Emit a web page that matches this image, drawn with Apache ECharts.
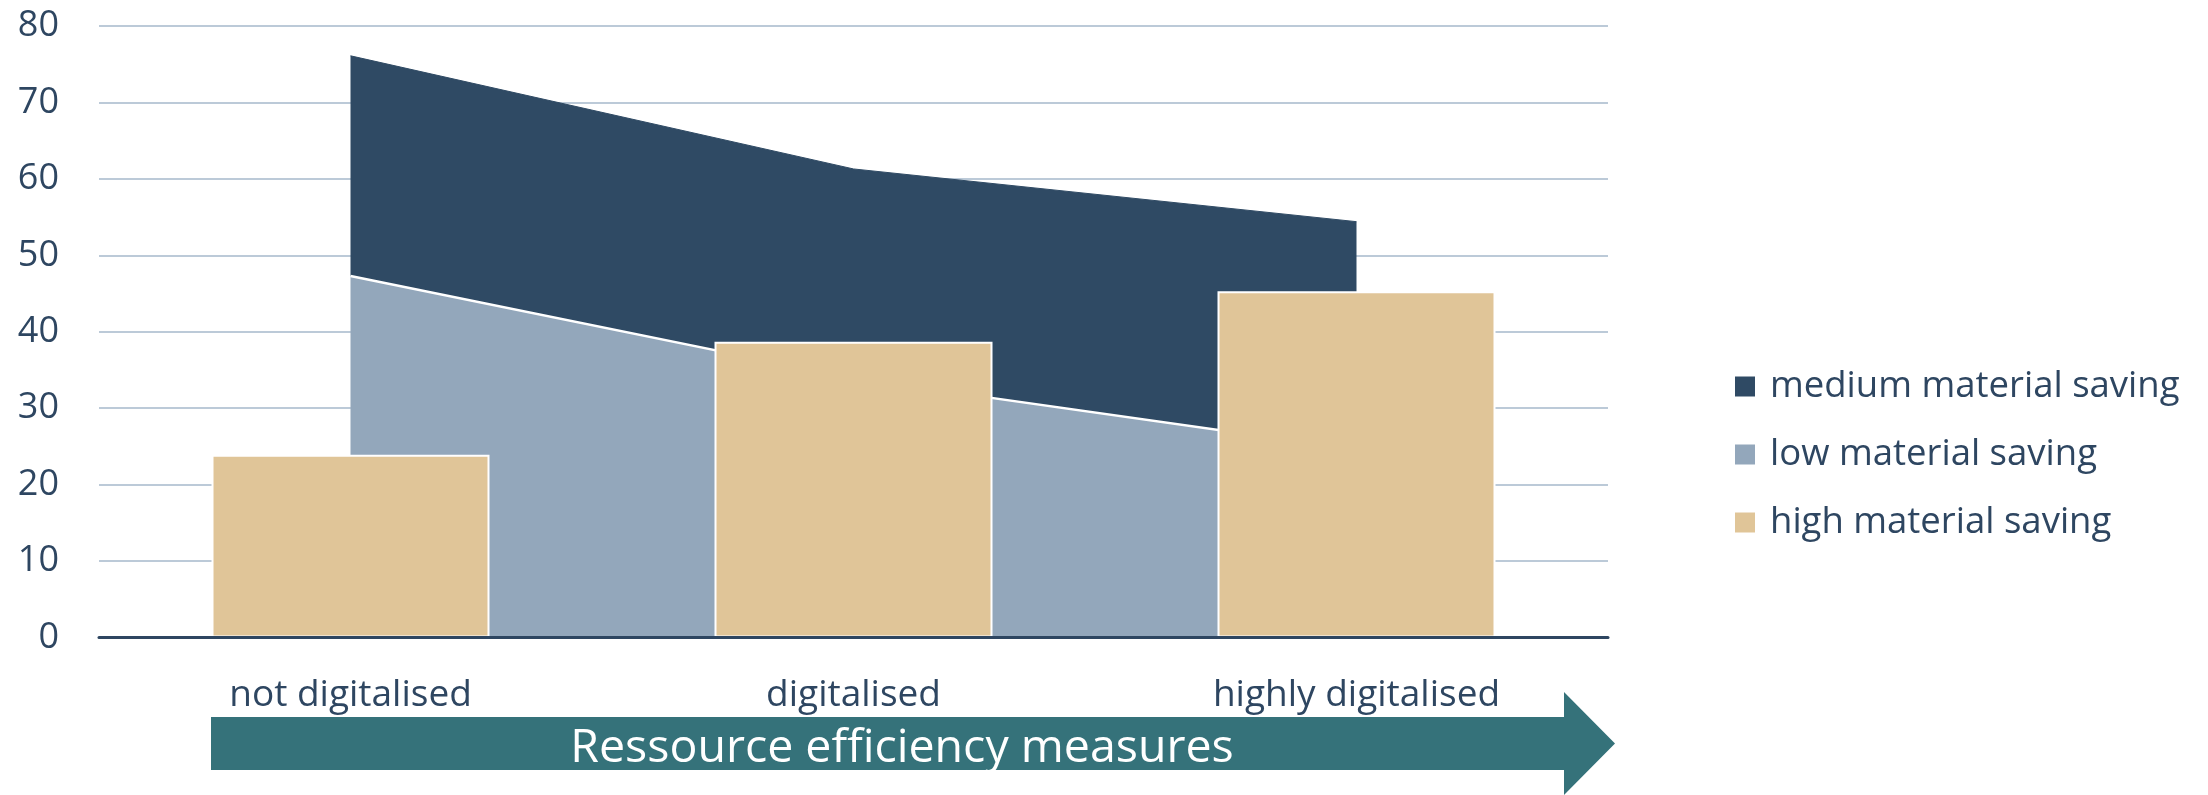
<!DOCTYPE html>
<html>
<head>
<meta charset="utf-8">
<script src="https://cdn.jsdelivr.net/npm/echarts@6/dist/echarts.min.js"></script>
<style>
  html, body { margin: 0; padding: 0; background: #ffffff; }
  #chart { width: 2208px; height: 795px; }
</style>
</head>
<body>
<div id="chart"></div>
<script>
// ---- data ----
const categories = ['not digitalised', 'digitalised', 'highly digitalised'];
const lowSaving = [47.3, 33.9, 24.6];      // bottom stacked area
const mediumSaving = [28.8, 27.4, 29.8];   // stacked on top of low
const highSaving = [23.9, 38.7, 45.3];     // bars
const yTicks = [0, 10, 20, 30, 40, 50, 60, 70, 80];
const seriesNames = ['medium material saving', 'low material saving', 'high material saving'];
const arrowLabel = 'Ressource efficiency measures';

// ---- styles ----
const C_MED = '#2F4A64';
const C_LOW = '#93A7BB';
const C_HIGH = '#E0C598';
const C_TEXT = '#2E4661';
const C_GRID = '#BCCAD8';
const C_ARROW = '#35727A';
const FONT = 'Open Sans';

const chart = echarts.init(document.getElementById('chart'), null, { renderer: 'canvas' });

const option = {
  backgroundColor: '#ffffff',
  animation: false,
  grid: { left: 99, right: 600, top: 26, bottom: 157.5, containLabel: false },
  legend: {
    orient: 'vertical',
    left: 1730,
    top: 363,
    itemWidth: 20,
    itemHeight: 20,
    itemGap: 31,
    icon: 'rect',
    selectedMode: false,
    textStyle: { fontFamily: FONT, fontSize: 36.5, color: C_TEXT, lineHeight: 36, padding: [0, 0, 0, 10] },
    data: [
      { name: seriesNames[0], icon: 'rect', itemStyle: { color: C_MED, borderWidth: 0 } },
      { name: seriesNames[1], icon: 'rect', itemStyle: { color: C_LOW, borderWidth: 0 } },
      { name: seriesNames[2], icon: 'rect', itemStyle: { color: C_HIGH, borderWidth: 0 } }
    ]
  },
  xAxis: {
    type: 'category',
    data: categories,
    boundaryGap: true,
    axisLine: { show: true, lineStyle: { color: C_TEXT, width: 3 } },
    axisTick: { show: false },
    axisLabel: { fontFamily: FONT, fontSize: 37, color: C_TEXT, margin: 40, lineHeight: 36 },
    splitLine: { show: false },
    z: 10
  },
  yAxis: {
    type: 'value',
    min: yTicks[0],
    max: yTicks[yTicks.length - 1],
    interval: yTicks[1] - yTicks[0],
    axisLine: { show: false },
    axisTick: { show: false },
    axisLabel: { fontFamily: FONT, fontSize: 36, color: C_TEXT, margin: 40 },
    splitLine: { show: true, lineStyle: { color: C_GRID, width: 2 } }
  },
  series: [
    {
      name: seriesNames[1],
      type: 'line',
      stack: 'saving',
      data: lowSaving,
      symbol: 'none',
      z: 3,
      itemStyle: { color: C_LOW },
      lineStyle: { color: '#ffffff', width: 2.5 },
      areaStyle: { color: C_LOW, opacity: 1 }
    },
    {
      name: seriesNames[0],
      type: 'line',
      stack: 'saving',
      data: mediumSaving,
      symbol: 'none',
      z: 2,
      itemStyle: { color: C_MED },
      lineStyle: { color: C_MED, width: 1 },
      areaStyle: { color: C_MED, opacity: 1 }
    },
    {
      name: seriesNames[2],
      type: 'bar',
      data: highSaving,
      barWidth: 278,
      z: 5,
      itemStyle: { color: C_HIGH, borderColor: '#ffffff', borderWidth: 2 }
    }
  ],
  graphic: [
    {
      type: 'polygon',
      z: 20,
      shape: { points: [[211, 717], [1564, 717], [1564, 692], [1615, 743.5], [1564, 795], [1564, 770], [211, 770]] },
      style: { fill: C_ARROW }
    },
    {
      type: 'text',
      z: 21,
      x: 902,
      y: 749,
      style: {
        text: arrowLabel,
        fill: '#ffffff',
        fontFamily: FONT,
        fontSize: 46.5,
        align: 'center',
        verticalAlign: 'middle'
      }
    }
  ]
};

chart.setOption(option);
</script>
</body>
</html>
